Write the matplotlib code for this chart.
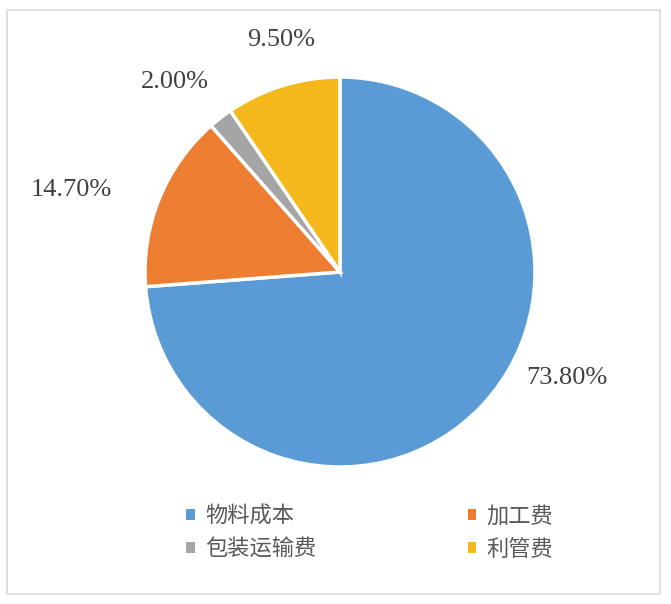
import matplotlib.pyplot as plt
from matplotlib.patches import Rectangle

plt.rcParams['font.family'] = ['Noto Sans CJK SC', 'DejaVu Sans']

categories = ['物料成本', '加工费', '包装运输费', '利管费']
shares = [73.8, 14.7, 2.0, 9.5]
colors = ['#5B9BD5', '#ED7D31', '#A5A5A5', '#F4B81C']

# label positions (pie radius units), placed like Excel's best fit
label_pos = [(1.165, -0.545), (-1.38, 0.42), (-0.845, 0.975), (-0.30, 1.19)]

fig = plt.figure(figsize=(6.71, 6.04), dpi=100)
fig.patches.append(Rectangle((7 / 671, 10 / 604), 653 / 671, 584 / 604,
                             transform=fig.transFigure, fill=False,
                             edgecolor='#D9D9D9', linewidth=1.2))

ax = fig.add_axes([145 / 671, 137 / 604, 390 / 671, 390 / 604])
wedges, _ = ax.pie(shares, colors=colors, startangle=90, counterclock=False,
                   radius=1.0,
                   wedgeprops=dict(edgecolor='white', linewidth=2.5))
ax.set_xlim(-1, 1)
ax.set_ylim(-1, 1)
ax.set_aspect('equal')
ax.axis('off')

for (x, y), v in zip(label_pos, shares):
    ax.text(x, y, f'{v:.2f}%', ha='center', va='center', fontsize=19,
            family='Liberation Serif', color='#404040', clip_on=False)

order = [0, 2, 1, 3]
leg = fig.legend([wedges[i] for i in order], [categories[i] for i in order],
                 ncol=2, loc='center', bbox_to_anchor=(0.551, 0.118),
                 frameon=False, fontsize=16, handlelength=0.4, handleheight=0.4,
                 handletextpad=0.45, columnspacing=6.8, labelspacing=0.45,
                 labelcolor='#595959')
for h in leg.legend_handles:
    h.set_edgecolor('none')

fig.savefig('out.png', dpi=100)
